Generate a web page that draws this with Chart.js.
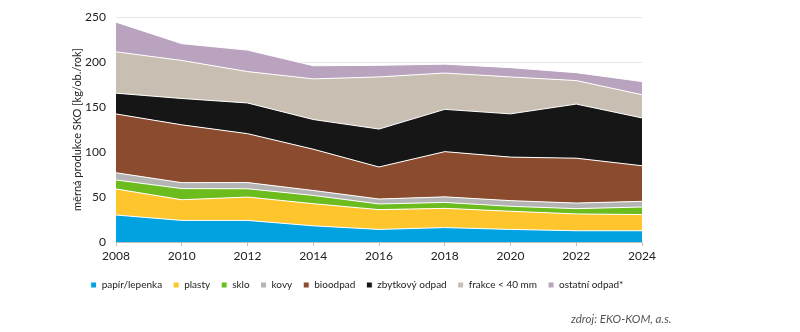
<!DOCTYPE html>
<html>
<head>
<meta charset="utf-8">
<script src="https://cdn.jsdelivr.net/npm/chart.js@4/dist/chart.umd.min.js"></script>
<style>
  html, body { margin: 0; padding: 0; background: #fff; }
  #wrap { position: relative; width: 800px; height: 332px; }
  #source {
    position: absolute; left: 571px; top: 312px;
    font: italic 11.5px Lato, "Open Sans", sans-serif; color: #555;
  }
</style>
</head>
<body>
<div id="wrap">
  <canvas id="chart" width="800" height="332"></canvas>
  <div id="source">zdroj: EKO-KOM, a.s.</div>
</div>
<script>
// years on the x axis
const years = ['2008', '2010', '2012', '2014', '2016', '2018', '2020', '2022', '2024'];

// kg/ob./rok per fraction
const papir = [30, 24, 24, 18, 14, 16, 14, 12.5, 12.5];
const plasty = [29, 23, 26, 24.6, 22, 21.4, 20.2, 18.7, 18];
const sklo = [10, 12.4, 9.2, 9.2, 6.3, 6.6, 5.5, 5.9, 8.4];
const kovy = [8, 6.6, 6.9, 5.5, 5.5, 6.2, 6.3, 6.2, 6.3];
const bioodpad = [65.4, 64.3, 54.4, 45.9, 35.6, 50.3, 48.4, 49.9, 39.6];
const zbytkovy = [23.1, 29.3, 34.1, 33, 42.2, 47, 48.1, 60.2, 53.2];
const frakce = [46, 42.3, 34.9, 45.2, 58, 40.4, 41.1, 26.1, 25.8];
const ostatni = [33, 18.7, 23.9, 14.6, 12.9, 9.9, 10.3, 8.8, 14.6];

const seriesNames = ['papír/lepenka', 'plasty', 'sklo', 'kovy', 'bioodpad', 'zbytkový odpad', 'frakce < 40 mm', 'ostatní odpad*'];
const seriesData = [papir, plasty, sklo, kovy, bioodpad, zbytkovy, frakce, ostatni];
const seriesColors = ['#00a2df', '#ffc52c', '#6cbc1e', '#b4b4b4', '#8a4b2e', '#161616', '#c8bfb2', '#b9a3bf'];

const yTicks = [0, 50, 100, 150, 200, 250];

const fontFamily = 'Lato, "Open Sans", sans-serif';

const datasets = seriesNames.map(function (name, i) {
    return {
        label: name,
        data: seriesData[i],
        backgroundColor: seriesColors[i],
        borderColor: '#ffffff',
        borderWidth: 1,
        fill: i === 0 ? 'origin' : '-1',
        pointRadius: 0,
        tension: 0
    };
});

// legend sits a bit left of the page centre, like in the original
const legendShift = {
    id: 'legendShift',
    afterLayout: function (chart) {
        chart.legend.left = 0;
        chart.legend.right = 714;
        chart.legend.width = 714;
    }
};

const ctx = document.getElementById('chart').getContext('2d');
const myChart = new Chart(ctx, {
    type: 'line',
    data: {
        labels: years,
        datasets: datasets
    },
    plugins: [legendShift],
    options: {
        responsive: false,
        animation: false,
        layout: {
            padding: {left: 67, right: 0, top: 4, bottom: 32}
        },
        plugins: {
            legend: {
                position: 'bottom',
                labels: {
                    boxWidth: 6,
                    boxHeight: 6,
                    padding: 11,
                    color: '#222',
                    font: {family: fontFamily, size: 10}
                }
            },
            tooltip: {enabled: false}
        },
        scales: {
            x: {
                offset: false,
                grid: {drawOnChartArea: false, drawTicks: true, tickLength: 4, color: '#bdbdbd'},
                border: {display: true, color: '#bdbdbd'},
                ticks: {
                    padding: 3,
                    color: '#222',
                    maxRotation: 0,
                    font: {family: fontFamily, size: 12}
                },
                afterFit: function (axis) {
                    axis.height = 27;
                }
            },
            y: {
                stacked: true,
                min: 0,
                max: 250,
                afterBuildTicks: function (axis) {
                    axis.ticks = yTicks.map(v => ({value: v}));
                },
                grid: {color: '#e6e6e6', drawTicks: false},
                border: {display: false},
                ticks: {
                    padding: 10,
                    color: '#222',
                    font: {family: fontFamily, size: 12}
                },
                title: {
                    display: true,
                    text: 'měrná produkce SKO [kg/ob./rok]',
                    color: '#222',
                    font: {family: fontFamily, size: 11}
                },
                afterFit: function (axis) {
                    axis.width = 49;
                }
            },
            // empty axis that only keeps the right side free
            spacer: {
                position: 'right',
                display: true,
                min: 0,
                max: 1,
                grid: {display: false},
                border: {display: false},
                ticks: {display: false},
                afterFit: function (axis) {
                    axis.width = 158;
                }
            }
        }
    }
});
</script>
</body>
</html>
